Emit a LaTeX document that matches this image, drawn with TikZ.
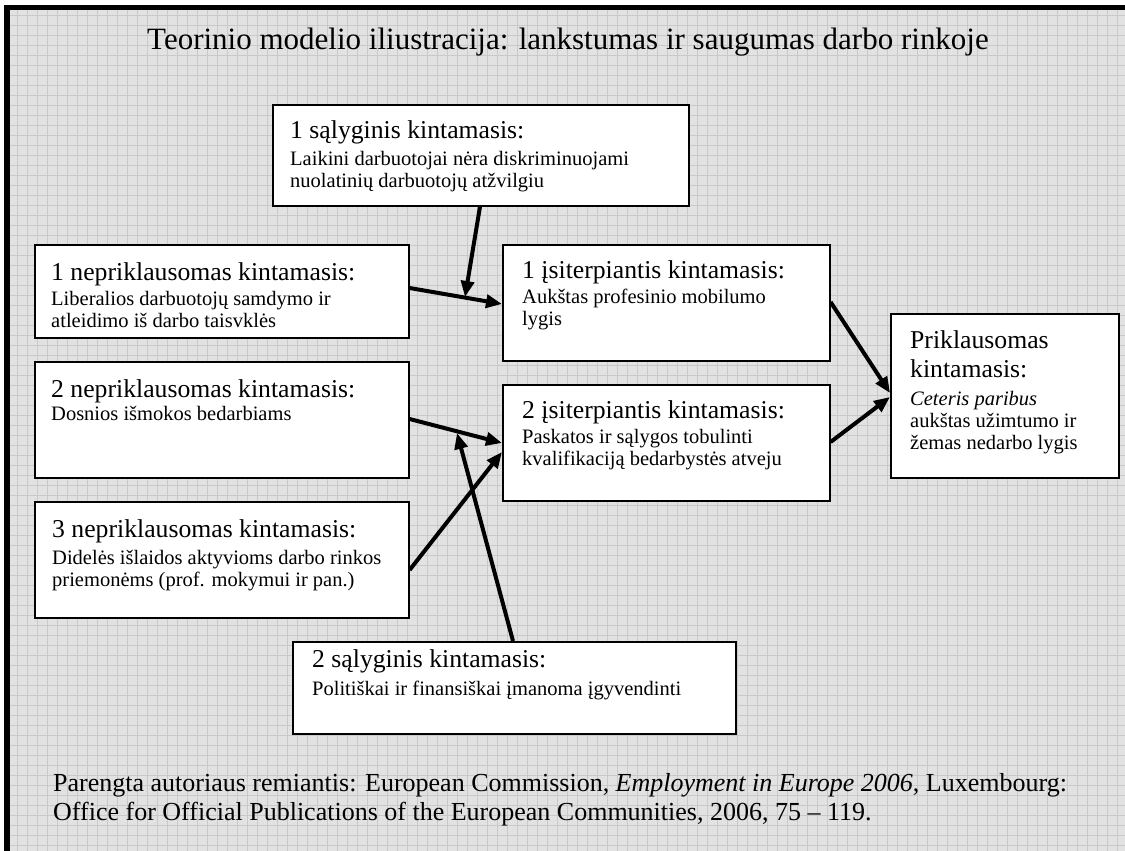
\documentclass[tikz,border=0pt]{standalone}
\usepackage{fontspec}
\setmainfont{Liberation Serif}
\usetikzlibrary{arrows.meta,calc}
\definecolor{bggray}{HTML}{E2E2E2}
\definecolor{gridgray}{HTML}{C9C9C9}
\newcommand{\hdr}[1]{{\fontsize{25.7}{25.7}\selectfont #1}}
\begin{document}
\begin{tikzpicture}[x=1pt,y=-1pt,
  box/.style={draw=black,line width=1.6pt,fill=white,inner sep=0pt,anchor=north west},
  txt/.style={anchor=north west,inner sep=0pt,align=left,font=\fontsize{20.5}{22}\selectfont},
  conn/.style={line width=4pt,-{Triangle[length=16pt,width=13pt]}},
  gridline/.style={gridgray,line width=0.7pt}
]
\useasboundingbox (0,0) rectangle (1125,851);
% background grid
\fill[bggray] (10,10) rectangle (1125,851);
\foreach \x in {17,27,...,1125} \draw[gridline] (\x,10) -- (\x,851);
\foreach \y in {15,25,...,851} \draw[gridline] (10,\y) -- (1125,\y);
% frame
\fill[black] (4,5) rectangle (10,851);
\fill[black] (4,5) rectangle (1125,10);

% title
\node[anchor=base,inner sep=0pt,font=\fontsize{31}{36}\selectfont] (title) at (568,50)
  {Teorinio modelio iliustracija: lankstumas ir saugumas darbo rinkoje};

% boxes
\node[box,minimum width=416pt,minimum height=101pt] (C1) at (272,104) {};
\node[box,minimum width=374pt,minimum height=93pt] (N1) at (34,244) {};
\node[box,minimum width=327pt,minimum height=116pt] (I1) at (502,244) {};
\node[box,minimum width=374pt,minimum height=116pt] (N2) at (34,361) {};
\node[box,minimum width=327pt,minimum height=116pt] (I2) at (502,384) {};
\node[box,minimum width=374pt,minimum height=116pt] (N3) at (34,501) {};
\node[box,minimum width=228pt,minimum height=164pt] (P) at (890,313) {};
\node[box,minimum width=443pt,minimum height=92pt] (C2) at (292,641) {};

% texts
\node[txt] (tC1) at (290,120.5) {\hdr{1 sąlyginis kintamasis:}\\[5pt]
  Laikini darbuotojai nėra diskriminuojami\\ nuolatinių darbuotojų atžvilgiu};
\node[txt] (tN1) at (51,262.5) {\hdr{1 nepriklausomas kintamasis:}\\[3pt]
  Liberalios darbuotojų samdymo ir\\ atleidimo iš darbo taisvklės};
\node[txt] (tI1) at (522,260.5) {\hdr{1 įsiterpiantis kintamasis:}\\[3pt]
  Aukštas profesinio mobilumo\\ lygis};
\node[txt] (tN2) at (51,379.5) {\hdr{2 nepriklausomas kintamasis:}\\[1pt]
  Dosnios išmokos bedarbiams};
\node[txt] (tI2) at (522,400.5) {\hdr{2 įsiterpiantis kintamasis:}\\[3pt]
  Paskatos ir sąlygos tobulinti\\ kvalifikaciją bedarbystės atveju};
\node[txt] (tN3) at (52,519.5) {\hdr{3 nepriklausomas kintamasis:}\\[5pt]
  Didelės išlaidos aktyvioms darbo rinkos\\ priemonėms (prof. mokymui ir pan.)};
\node[txt] (tC2) at (312,649.5) {\hdr{2 sąlyginis kintamasis:}\\[6pt]
  Politiškai ir finansiškai įmanoma įgyvendinti};
\node[txt] (tP) at (910,330.5) {\hdr{Priklausomas}\\[7pt]
  \hdr{kintamasis:}\\[6pt]
  \textit{Ceteris paribus}\\ aukštas užimtumo ir\\ žemas nedarbo lygis};

% footer
\node[anchor=north west,inner sep=0pt,align=left,font=\fontsize{26}{29}\selectfont] (foot) at (53,773.3)
  {Parengta autoriaus remiantis: European Commission, \textit{Employment in Europe 2006}, Luxembourg:\\
   Office for Official Publications of the European Communities, 2006, 75 – 119.};

% connectors
\coordinate (m1) at (465,297);
\coordinate (m2) at (457,433);
\draw[conn] ($(C1.south west)+(208,0)$) -- (m1);
\draw[conn] ($(N1.north east)+(0,44)$) -- ($(I1.north west)+(0,60)$);
\draw[conn] ($(N2.north east)+(0,58)$) -- ($(I2.north west)+(0,59)$);
\draw[conn] ($(N3.north east)+(0,69)$) -- ($(I2.north west)+(0,68)$);
\draw[conn] ($(C2.north west)+(221,0)$) -- (m2);
\draw[conn] ($(I1.north east)+(0,58)$) -- ($(P.north west)+(0,80)$);
\draw[conn] ($(I2.north east)+(0,58)$) -- ($(P.north west)+(0,84)$);
\end{tikzpicture}
\end{document}
